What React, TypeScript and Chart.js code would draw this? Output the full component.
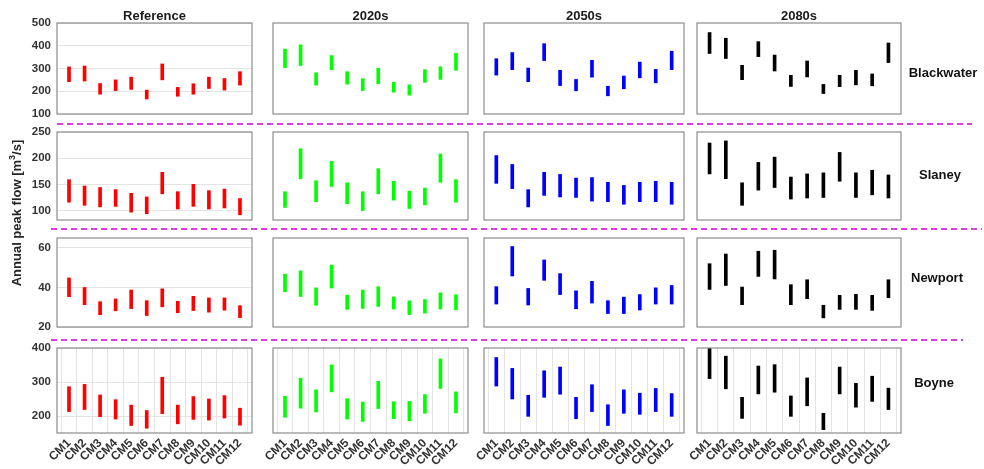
import React, { useEffect, useRef } from 'react';
import { Chart, registerables } from 'chart.js';

Chart.register(...registerables);

// ---------- data ----------
const categories = ['CM1', 'CM2', 'CM3', 'CM4', 'CM5', 'CM6', 'CM7', 'CM8', 'CM9', 'CM10', 'CM11', 'CM12'];
const periods = ['Reference', '2020s', '2050s', '2080s'];
const catchments = ['Blackwater', 'Slaney', 'Newport', 'Boyne'];
const periodColors = ['#ff0000', '#00ff00', '#0000ff', '#000000'];

// y-axis limits and ticks per catchment
const yMins = [100, 82, 20, 150];
const yMaxs = [500, 250, 65, 400];
const blackwaterTicks = [100, 200, 300, 400, 500];
const slaneyTicks = [100, 150, 200, 250];
const newportTicks = [20, 40, 60];
const boyneTicks = [200, 300, 400];

// [low, high] annual peak flow ranges per climate model
const blackwaterRef = [[242, 307], [245, 311], [187, 234], [203, 250], [208, 262], [166, 205], [250, 320], [178, 217], [187, 233], [212, 262], [205, 256], [227, 286]];
const blackwater2020 = [[304, 385], [313, 404], [227, 281], [295, 357], [231, 286], [203, 255], [233, 301], [196, 239], [183, 228], [239, 295], [252, 308], [292, 367]];
const blackwater2050 = [[271, 343], [295, 370], [242, 302], [335, 409], [225, 292], [202, 252], [262, 336], [180, 222], [211, 267], [259, 328], [237, 296], [295, 376]];
const blackwater2080 = [[366, 458], [344, 433], [251, 314], [352, 418], [289, 359], [221, 270], [263, 333], [190, 230], [220, 270], [228, 292], [224, 276], [326, 412]];

const slaneyRef = [[116, 159], [110, 147], [107, 144], [108, 140], [97, 133], [94, 126], [132, 173], [103, 136], [108, 150], [103, 138], [105, 141], [92, 123]];
const slaney2020 = [[106, 136], [161, 218], [117, 157], [146, 194], [113, 153], [100, 136], [132, 180], [120, 156], [104, 137], [111, 143], [154, 208], [116, 159]];
const slaney2050 = [[152, 205], [142, 188], [107, 140], [129, 173], [126, 169], [125, 162], [118, 163], [117, 154], [112, 148], [117, 154], [117, 156], [112, 154]];
const slaney2080 = [[170, 229], [161, 233], [110, 153], [139, 192], [144, 202], [122, 164], [124, 170], [125, 172], [156, 211], [125, 172], [130, 177], [124, 168]];

const newportRef = [[35.3, 44.8], [31.3, 40], [26.2, 32.8], [28.2, 34.2], [29.3, 38.7], [25.8, 33.3], [30.2, 39.3], [27.2, 33], [28.3, 35.5], [27.5, 34.7], [28.5, 34.7], [24.7, 30.8]];
const newport2020 = [[37.8, 46.7], [35.4, 48.4], [31, 39.8], [39.7, 51.3], [28.9, 36.1], [29.4, 38.7], [30.4, 40.4], [29.1, 35.2], [26.3, 33.2], [27, 33.9], [29.1, 37.3], [28.7, 36.3]];
const newport2050 = [[31.6, 40.4], [45.8, 60.7], [31.1, 39.5], [43.6, 53.9], [36.4, 47], [29.2, 38.3], [32.1, 43.1], [26.8, 33.3], [26.8, 35.1], [28.6, 36.4], [31.6, 39.8], [31.6, 41]];
const newport2080 = [[39, 52], [41, 56.9], [31.3, 40.2], [45.6, 58.3], [44.3, 58.8], [31.3, 41.4], [34.3, 43.9], [24.6, 31], [28.9, 36], [28.9, 36.5], [28.4, 36], [34.8, 43.9]];

const boyneRef = [[213, 286], [219, 293], [198, 262], [191, 248], [172, 232], [164, 216], [207, 314], [177, 232], [190, 257], [188, 250], [194, 260], [173, 223]];
const boyne2020 = [[196, 258], [223, 311], [212, 277], [271, 350], [191, 251], [184, 241], [222, 302], [192, 242], [186, 243], [208, 263], [281, 368], [209, 271]];
const boyne2050 = [[288, 372], [250, 340], [199, 261], [255, 333], [264, 344], [192, 255], [213, 292], [172, 233], [208, 277], [205, 267], [213, 281], [199, 266]];
const boyne2080 = [[310, 400], [280, 376], [193, 255], [265, 347], [270, 351], [199, 259], [230, 312], [160, 208], [265, 344], [226, 296], [243, 317], [219, 282]];

const yTicks = [blackwaterTicks, slaneyTicks, newportTicks, boyneTicks];
const panelData = [
  [blackwaterRef, blackwater2020, blackwater2050, blackwater2080],
  [slaneyRef, slaney2020, slaney2050, slaney2080],
  [newportRef, newport2020, newport2050, newport2080],
  [boyneRef, boyne2020, boyne2050, boyne2080],
];

// ---------- layout ----------
const FONT = "'Liberation Sans', Arial, Helvetica, sans-serif";
const colX = [[57, 252], [273, 468], [484, 684], [697, 901]];
const rowY = [[23, 114], [132, 220], [238, 327], [348, 433]];
const PAD_L = 45;
const PAD_T = 8;
const PAD_R = 3;
const PAD_B = 8;
const LABEL_H = 36;

const framePlugin = {
  id: 'frame',
  afterDraw(chart: any) {
    const { ctx, chartArea: a } = chart;
    ctx.save();
    ctx.strokeStyle = '#8c8c8c';
    ctx.lineWidth = 1.2;
    ctx.strokeRect(a.left, a.top, a.right - a.left, a.bottom - a.top);
    ctx.restore();
  },
};

function zeroPadding(s: any) {
  s.paddingTop = 0;
  s.paddingBottom = 0;
  s.paddingLeft = 0;
  s.paddingRight = 0;
}

function Panel({ row, col }: { row: number; col: number }) {
  const ref = useRef<HTMLCanvasElement | null>(null);
  const isBottom = row === 3;
  const plotW = colX[col][1] - colX[col][0];
  const plotH = rowY[row][1] - rowY[row][0];
  const w = PAD_L + plotW + PAD_R;
  const h = PAD_T + plotH + (isBottom ? LABEL_H : PAD_B);

  useEffect(() => {
    const pairs = panelData[row][col];
    const chart = new Chart(ref.current as HTMLCanvasElement, {
      type: 'bar',
      data: {
        datasets: [
          {
            data: pairs.map((p, i) => ({ x: i + 1, y: [p[0], p[1]] })) as any,
            backgroundColor: periodColors[col],
            borderWidth: 0,
            barThickness: 3,
          },
        ],
      },
      options: {
        animation: false,
        responsive: false,
        maintainAspectRatio: false,
        events: [],
        plugins: { legend: { display: false }, tooltip: { enabled: false } },
        layout: { autoPadding: false, padding: { top: PAD_T, right: PAD_R, left: 0, bottom: 0 } },
        scales: {
          x: {
            type: 'linear',
            min: 0.75,
            max: 12.25,
            position: 'bottom',
            afterBuildTicks: (s: any) => {
              s.ticks = categories.map((_, i) => ({ value: i + 1 }));
            },
            afterFit: (s: any) => {
              s.height = isBottom ? LABEL_H : PAD_B;
              zeroPadding(s);
            },
            grid: { display: isBottom, color: '#e4e4e4', drawTicks: false },
            border: { display: false },
            ticks: {
              display: isBottom,
              autoSkip: false,
              maxRotation: 45,
              minRotation: 45,
              padding: 3,
              font: { family: FONT, size: 12, weight: 'bold' },
              color: '#333333',
              callback: (v: any) => categories[Number(v) - 1] ?? '',
            },
          },
          y: {
            type: 'linear',
            min: yMins[row],
            max: yMaxs[row],
            afterBuildTicks: (s: any) => {
              s.ticks = yTicks[row].map((v) => ({ value: v }));
            },
            afterFit: (s: any) => {
              s.width = PAD_L;
              zeroPadding(s);
            },
            grid: { display: col === 0, color: '#e4e4e4', drawTicks: false },
            border: { display: false },
            ticks: {
              display: col === 0,
              padding: 6,
              font: { family: FONT, size: 11.5, weight: 'bold' },
              color: '#333333',
            },
          },
        },
      } as any,
      plugins: [framePlugin],
    });
    return () => chart.destroy();
  }, [row, col]);

  return (
    <canvas
      ref={ref}
      width={w}
      height={h}
      style={{
        position: 'absolute',
        left: colX[col][0] - PAD_L,
        top: rowY[row][0] - PAD_T,
        width: w,
        height: h,
      }}
    />
  );
}

const rowLabelPos = [
  [943, 72],
  [940, 174],
  [937, 277],
  [934, 382],
];
const dashLines = [
  [57, 972, 124],
  [51, 982, 229],
  [51, 963, 340],
];

export default function App() {
  const textBase: React.CSSProperties = {
    position: 'absolute',
    fontFamily: FONT,
    fontWeight: 'bold',
    whiteSpace: 'nowrap',
    transform: 'translate(-50%, -50%)',
    lineHeight: 1,
  };
  return (
    <div style={{ position: 'absolute', left: 0, top: 0, width: 984, height: 469, background: '#ffffff', overflow: 'hidden' }}>
      {panelData.map((r, ri) => r.map((_, ci) => <Panel key={`${ri}-${ci}`} row={ri} col={ci} />))}
      <svg width={984} height={469} style={{ position: 'absolute', left: 0, top: 0 }}>
        {dashLines.map(([x1, x2, y], i) => (
          <line key={i} x1={x1} x2={x2} y1={y} y2={y} stroke="#e03de0" strokeWidth={1.8} strokeDasharray="6 4" />
        ))}
      </svg>
      {periods.map((p, i) => (
        <div key={p} style={{ ...textBase, left: (colX[i][0] + colX[i][1]) / 2, top: 15, fontSize: 13, color: '#1a1a1a' }}>
          {p}
        </div>
      ))}
      {catchments.map((c, i) => (
        <div key={c} style={{ ...textBase, left: rowLabelPos[i][0], top: rowLabelPos[i][1], fontSize: 13, color: '#111111' }}>
          {c}
        </div>
      ))}
      <div
        style={{
          ...textBase,
          left: 16,
          top: 213,
          fontSize: 13,
          color: '#262626',
          transform: 'translate(-50%, -50%) rotate(-90deg)',
        }}
      >
        Annual peak flow [m<sup style={{ fontSize: 9, verticalAlign: 'super', lineHeight: 0 }}>3</sup>/s]
      </div>
    </div>
  );
}
